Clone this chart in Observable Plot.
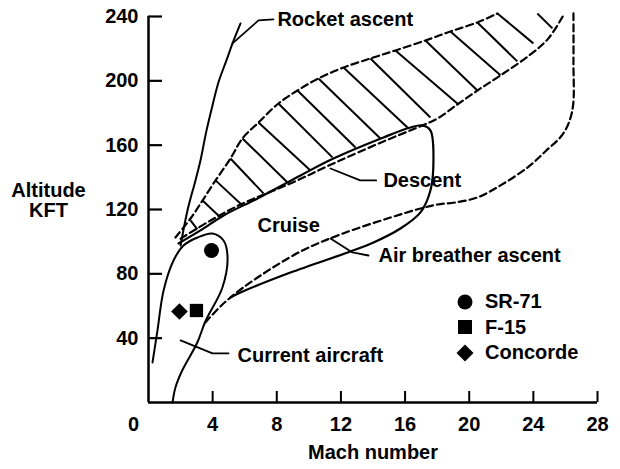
<!DOCTYPE html>
<html><head><meta charset="utf-8">
<script src="https://cdn.jsdelivr.net/npm/d3@7"></script>
<script src="https://cdn.jsdelivr.net/npm/@observablehq/plot@0.6"></script>
<style>
body{margin:0;background:#fff;}
#wrap{position:relative;width:620px;height:469px;}
#legend{position:absolute;left:455px;top:289px;font:bold 20px "Liberation Sans",Arial,Helvetica,sans-serif;color:#000;}
.row{display:flex;align-items:center;height:25.5px;}
.row svg{width:20px;height:20px;margin-right:10px;flex:none}
</style></head><body>
<div id="wrap"><div id="chart"></div><div id="legend"></div></div>
<script>
// ---- data (Mach number, altitude in kft) ----
const xTicks = [4, 8, 12, 16, 20, 24, 28];
const yTicks = [40, 80, 120, 160, 200, 240];

const rocketAscent = [[2.0,97.6],[2.43,119.4],[2.93,138.1],[3.24,150.5],[3.62,169.2],[3.99,184.7],[4.36,199.0],[4.86,212.7],[5.24,223.3],[5.74,235.7]];

const currentAircraft = [[0.25,24.9],[0.56,44.8],[0.94,69.7],[1.56,88.3],[2.18,97.6],[3.05,102.6],[3.99,105.1],[4.68,100.7],[4.93,90.2],[4.61,71.5],[3.55,50.5],[3.03,37.0],[2.10,19.9],[1.68,9.3],[1.50,0]];

const cruiseEnvelope = [[1.87,98.9],[3.24,107.0],[4.68,116.3],[6.80,126.9],[9.48,141.2],[11.53,151.7],[14.65,164.8],[16.33,171.0],[17.08,172.3],[17.58,169.2],[17.77,150.5],[17.58,131.8],[16.96,118.2],[15.71,108.2],[14.03,99.5],[12.59,93.9],[8.85,80.8],[5.74,68.4],[5.11,65.3]];

const corridorUpper = [[1.68,102.6],[2.62,114.4],[3.37,125.6],[4.18,138.1],[5.11,151.7],[5.86,164.2],[6.86,174.1],[8.10,185.9],[9.29,194.0],[10.60,201.5],[12.16,208.3],[13.84,213.9],[15.40,218.9],[17.27,225.1],[18.83,230.7],[20.51,236.3],[21.76,241.9]];

const corridorLower = [[2.0,101.9],[3.87,113.2],[5.74,123.1],[8.85,136.2],[11.53,148.6],[14.65,162.3],[16.77,171.0],[18.02,176.6],[19.26,185.3],[20.51,194.0],[21.95,203.4],[23.82,216.4],[24.94,226.4],[25.87,240.7]];

const airBreatherBoundary = [[26.50,241.9],[26.50,212.7],[26.43,181.6],[25.87,167.3],[24.81,156.7],[23.63,146.1],[21.95,135.0],[20.51,127.5],[19.14,124.4],[18.02,123.1],[16.96,120.6],[15.09,115.0],[11.97,104.5],[9.48,93.9],[6.80,77.7],[5.11,65.3],[4.36,58.5],[3.55,49.8]];

// hatch strokes: [mach1, alt1, mach2, alt2]
const hatch = [
  [2.62,113.2,3.05,107.6],[3.37,125.6,4.49,115.0],[4.18,138.1,5.86,122.5],[5.11,151.7,7.17,130.0],
  [5.86,164.2,8.67,136.8],[6.86,174.1,10.10,144.3],[8.10,185.9,11.47,152.4],[9.29,194.0,12.91,158.6],
  [10.60,201.5,14.46,164.2],[12.16,208.3,16.15,171.0],[13.84,213.9,17.58,177.2],[15.40,218.9,19.26,185.9],
  [17.27,225.1,20.51,194.0],[18.83,230.7,21.95,203.4],[20.51,236.3,23.00,212.1],[21.76,241.9,24.00,223.3],
  [24.25,241.9,25.19,232.6]
];

const leaderRocket = [[5.24,223.3],[6.86,237.6],[7.79,238.2]];
const leaderDescent = [[11.35,145.5],[13.2,138.1],[14.2,138.1]];
const leaderAirBreather = [[11.35,102.0],[12.72,93.3],[13.72,91.4]];
const leaderCurrent = [[2.0,38.6],[3.99,30.5],[4.99,30.5]];

const labelText = ["Rocket ascent", "Descent", "Cruise", "Air breather ascent", "Current aircraft"];
const labelMach = [8.04, 14.65, 6.80, 14.34, 5.55];
const labelAlt = [238.2, 138.1, 110.1, 91.4, 29.2];

const axisTitleX = "Mach number";
const axisTitleY = ["Altitude", "KFT"];

const aircraft = ["SR-71", "F-15", "Concorde"];
const aircraftMach = [3.93, 2.99, 1.93];
const aircraftAlt = [94.5, 57.2, 56.6];
const aircraftSymbol = ["circle", "square", "diamond2"];

// ---- chart ----
const FONT = '"Liberation Sans", Arial, Helvetica, sans-serif';
const labels = labelText.map((t, i) => ({t, x: labelMach[i], y: labelAlt[i]}));
const planes = aircraft.map((n, i) => ({n, x: aircraftMach[i], y: aircraftAlt[i]}));
const pts = a => a.map(([x, y]) => ({x, y}));
const dash = "7,4";

const chart = Plot.plot({
  width: 620, height: 469,
  marginLeft: 148, marginRight: 23, marginTop: 16, marginBottom: 67,
  x: {domain: [0, 28]},
  y: {domain: [0, 240]},
  symbol: {domain: aircraft, range: aircraftSymbol},
  style: {fontFamily: FONT, fontSize: "20px", fontWeight: "bold", color: "black", background: "white"},
  marks: [
    Plot.ruleY([0], {stroke: "black", strokeWidth: 2.5}),
    Plot.ruleX([0], {stroke: "black", strokeWidth: 2.5}),
    Plot.axisY({ticks: yTicks, tickSize: -14, tickPadding: 24, strokeWidth: 2.2, label: null, tickFormat: d => d}),
    Plot.axisX({ticks: xTicks, tickSize: -11, tickPadding: 25, strokeWidth: 2, label: null, tickFormat: d => d}),
    Plot.axisX({ticks: [0], tickSize: 0, tickPadding: 14, dx: -15, label: null, tickFormat: d => d}),
    Plot.text([axisTitleX], {frameAnchor: "bottom", dy: 56, textAnchor: "middle"}),
    Plot.text([axisTitleY[0]], {frameAnchor: "left", dx: -100, dy: -19, textAnchor: "middle"}),
    Plot.text([axisTitleY[1]], {frameAnchor: "left", dx: -100, dy: 1, textAnchor: "middle"}),
    // hatching
    Plot.link(hatch, {x1: d => d[0], y1: d => d[1], x2: d => d[2], y2: d => d[3], stroke: "black", strokeWidth: 2}),
    // dashed boundaries
    Plot.line(pts(corridorUpper), {x: "x", y: "y", curve: "catmull-rom", stroke: "black", strokeWidth: 2.2, strokeDasharray: dash}),
    Plot.line(pts(corridorLower), {x: "x", y: "y", curve: "catmull-rom", stroke: "black", strokeWidth: 2.2, strokeDasharray: dash}),
    Plot.line(pts(airBreatherBoundary), {x: "x", y: "y", curve: "catmull-rom", stroke: "black", strokeWidth: 2.2, strokeDasharray: dash}),
    // solid curves
    Plot.line(pts(rocketAscent), {x: "x", y: "y", curve: "catmull-rom", stroke: "black", strokeWidth: 2}),
    Plot.line(pts(currentAircraft), {x: "x", y: "y", curve: "catmull-rom", stroke: "black", strokeWidth: 2}),
    Plot.line(pts(cruiseEnvelope), {x: "x", y: "y", curve: "catmull-rom", stroke: "black", strokeWidth: 2.2}),
    // leaders
    ...[leaderRocket, leaderDescent, leaderAirBreather, leaderCurrent].map(l =>
      Plot.line(pts(l), {x: "x", y: "y", stroke: "black", strokeWidth: 1.8})),
    Plot.text(labels, {x: "x", y: "y", text: "t", textAnchor: "start"}),
    Plot.dot(planes, {x: "x", y: "y", symbol: "n", r: 7.5, fill: "black", stroke: "none"})
  ]
});
document.getElementById("chart").appendChild(chart);

// legend (HTML overlay)
const shapes = {
  circle: '<circle cx="10" cy="10" r="7.5" fill="black"/>',
  square: '<rect x="3" y="3" width="14" height="14" fill="black"/>',
  diamond2: '<polygon points="10,1.5 18.5,10 10,18.5 1.5,10" fill="black"/>'
};
const leg = document.getElementById("legend");
aircraft.forEach((n, i) => {
  const row = document.createElement("div");
  row.className = "row";
  row.innerHTML = `<svg viewBox="0 0 20 20">${shapes[aircraftSymbol[i]]}</svg><span>${n}</span>`;
  leg.appendChild(row);
});
</script></body></html>
